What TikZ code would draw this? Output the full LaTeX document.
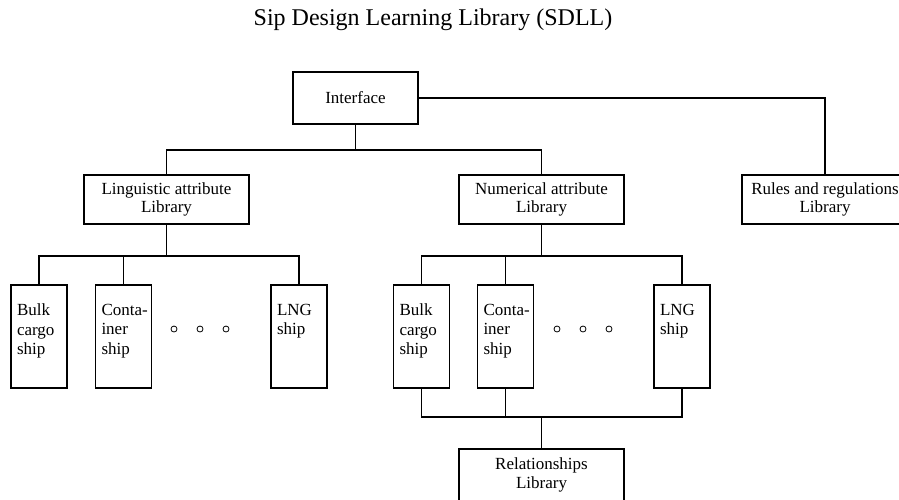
\documentclass[tikz,border=0pt]{standalone}
\usepackage{fontspec}
\setmainfont{Liberation Serif}
\newcommand{\shiptext}[1]{\parbox[c][65pt][t]{44pt}{\raggedright #1}}
\begin{document}
\begin{tikzpicture}[x=1pt, y=-1pt,
  box/.style={draw, line width=1.3pt, align=center, inner sep=0pt,
    font=\fontsize{17}{18.5}\selectfont},
  libbox/.style={box, minimum width=165pt, minimum height=49pt},
  shipbox/.style={draw, line width=1.3pt, inner xsep=6pt, inner ysep=19pt,
    font=\fontsize{17}{19.5}\selectfont},
  link/.style={line width=1.3pt}]
  \useasboundingbox (0,0) rectangle (899,499);
  \clip (0,0) rectangle (899,499);

  \node[font=\fontsize{24}{28}\selectfont, anchor=base] (title) at (433,25)
    {Sip Design Learning Library (SDLL)};

  \node[box, minimum width=125pt, minimum height=52pt] (int) at (355.5,98) {Interface};

  \node[libbox] (ling) at (166.5,199.5) {Linguistic attribute\\Library};
  \node[libbox] (num) at (541.5,199.5) {Numerical attribute\\Library};
  \node[libbox, minimum width=166pt] (rules) at (825,199.5) {Rules and regulations\\Library};

  \node[shipbox] (lbulk) at (39,336.5) {\shiptext{Bulk\\cargo\\ship}};
  \node[shipbox] (lcont) at (123.5,336.5) {\shiptext{\mbox{Conta-}\\iner\\ship}};
  \node[shipbox] (llng) at (299,336.5) {\shiptext{LNG\\ship}};

  \node[shipbox] (rbulk) at (421.5,336.5) {\shiptext{Bulk\\cargo\\ship}};
  \node[shipbox] (rcont) at (505.5,336.5) {\shiptext{\mbox{Conta-}\\iner\\ship}};
  \node[shipbox] (rlng) at (682,336.5) {\shiptext{LNG\\ship}};

  \node[libbox, minimum height=52pt] (rel) at (541.5,475) {Relationships\\Library};

  \coordinate (top) at (0,150);
  \coordinate (row) at (0,256);
  \coordinate (bot) at (0,417);

  \draw[link] (int.east) -| (rules.north);
  \draw[link] (int.south) -- (int.south |- top);
  \draw[link] (ling.north) |- (num.north |- top) -- (num.north);

  \draw[link] (ling.south) -- (ling.south |- row);
  \draw[link] (lbulk.north) |- (llng.north |- row) -- (llng.north);
  \draw[link] (lcont.north) -- (lcont.north |- row);

  \draw[link] (num.south) -- (num.south |- row);
  \draw[link] (rbulk.north) |- (rlng.north |- row) -- (rlng.north);
  \draw[link] (rcont.north) -- (rcont.north |- row);

  \draw[link] (rbulk.south) |- (rlng.south |- bot) -- (rlng.south);
  \draw[link] (rcont.south) -- (rcont.south |- bot);
  \draw[link] (rel.north) -- (rel.north |- bot);

  \foreach \x in {174,200,226,557,583,609}
    \draw[line width=0.8pt] (\x,329) circle (3pt);
\end{tikzpicture}
\end{document}
